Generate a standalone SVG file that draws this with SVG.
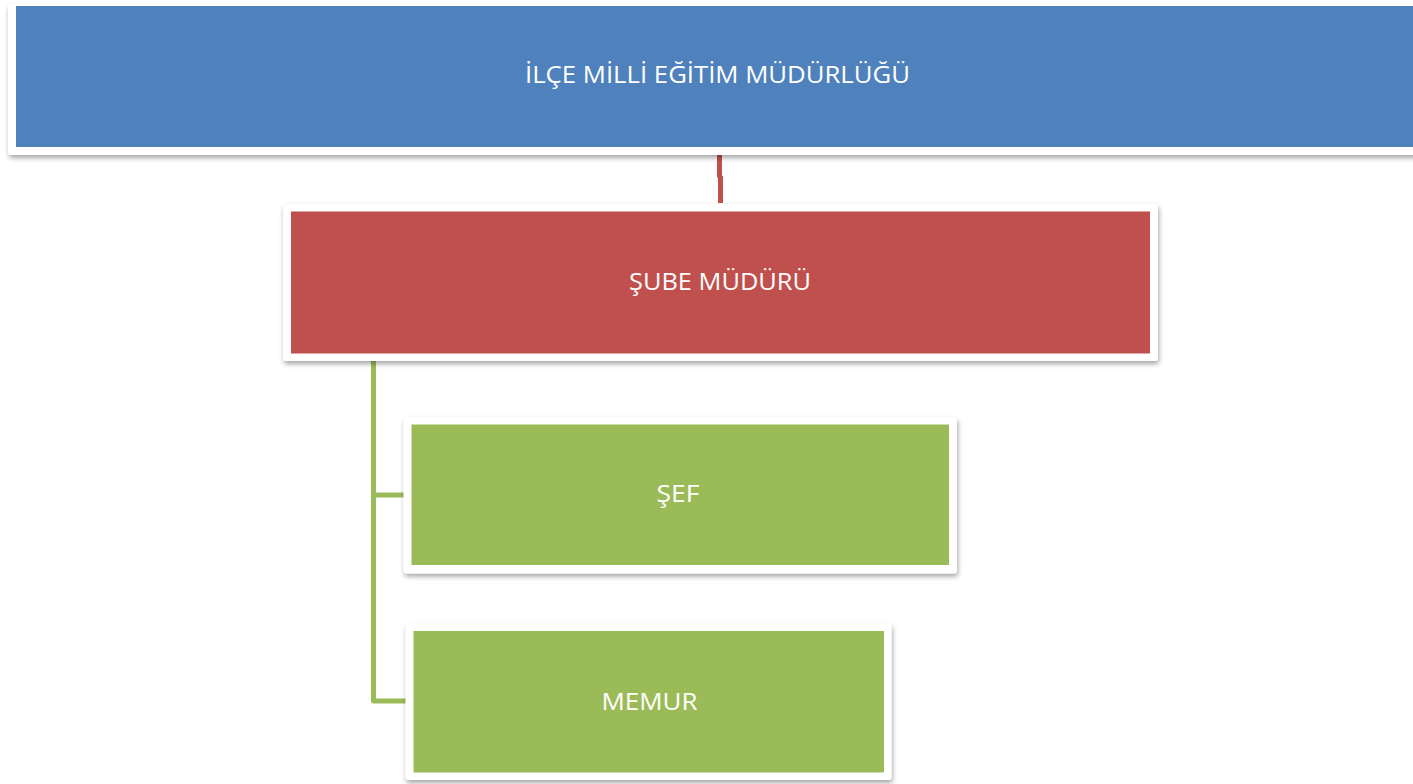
<svg xmlns="http://www.w3.org/2000/svg" width="1413" height="784" viewBox="0 0 1413 784">
<style>
.frame{fill:#ffffff;filter:url(#sh);}
.lbl{font-family:"Open Sans","Liberation Sans",Arial,sans-serif;font-size:24px;fill:#ffffff;text-anchor:middle;}
.red{fill:none;stroke:#C0504D;stroke-width:5;}
.grn{fill:none;stroke:#9BBB59;stroke-width:5;stroke-linejoin:round;stroke-linecap:butt;}
</style>
<defs>
<filter id="sh" x="-5%" y="-10%" width="110%" height="130%">
<feDropShadow dx="1" dy="3" stdDeviation="2.5" flood-color="#000" flood-opacity="0.35"/>
</filter>
</defs>
<rect width="1413" height="784" fill="#ffffff"/>
<g id="connectors">
<path class="red" d="M719.5 155 V176 L720.5 177.5 V203"/>
<path class="grn" d="M373.5 361 V701 H406 M373.5 495 H404"/>
</g>
<g id="node-ilce">
<rect class="frame" x="8" y="4" width="1425" height="151" rx="3"/>
<rect x="16" y="6" width="1415" height="141" fill="#4F81BD"/>
<text class="lbl" x="717.5" y="83" textLength="385" lengthAdjust="spacingAndGlyphs">İLÇE MİLLİ EĞİTİM MÜDÜRLÜĞÜ</text>
</g>
<g id="node-sube">
<rect class="frame" x="283" y="204" width="875" height="157" rx="3"/>
<rect x="291" y="211.5" width="859" height="142" fill="#C0504D"/>
<text class="lbl" x="720" y="289.5" textLength="182" lengthAdjust="spacingAndGlyphs">ŞUBE MÜDÜRÜ</text>
</g>
<g id="node-sef">
<rect class="frame" x="403.5" y="417" width="553.5" height="156.5" rx="3"/>
<rect x="411.5" y="424.5" width="537.5" height="140.5" fill="#9BBB59"/>
<text class="lbl" x="678" y="501.5" textLength="43" lengthAdjust="spacingAndGlyphs">ŞEF</text>
</g>
<g id="node-memur">
<rect class="frame" x="405.5" y="623.5" width="486" height="156.5" rx="3"/>
<rect x="413.5" y="631" width="470.5" height="141.5" fill="#9BBB59"/>
<text class="lbl" x="649.5" y="709.5" textLength="96" lengthAdjust="spacingAndGlyphs">MEMUR</text>
</g>
</svg>
